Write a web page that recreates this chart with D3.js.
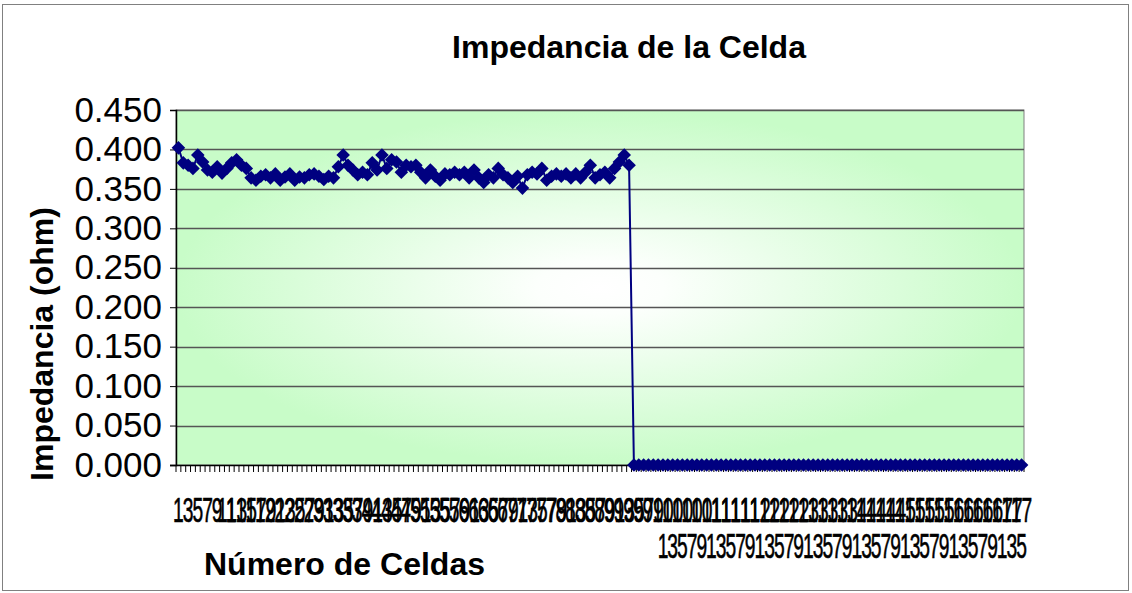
<!DOCTYPE html>
<html>
<head>
<meta charset="utf-8">
<script src="https://cdn.jsdelivr.net/npm/d3@7"></script>
<style>
  body { margin: 0; background: #fff; }
  text { font-family: "Liberation Sans", Arial, sans-serif; }
</style>
</head>
<body>
<div id="chart"></div>
<script>
// Impedancia de la Celda - line chart with diamond markers

// categories 1..175 (cell number)
const categorias = d3.range(1, 176);

// impedance values (ohm)
const impedancia = [
  0.402, 0.383, 0.380, 0.376, 0.393, 0.384, 0.374, 0.371, 0.378, 0.370,
  0.376, 0.383, 0.387, 0.380, 0.376, 0.364, 0.361, 0.366, 0.368, 0.364,
  0.369, 0.361, 0.365, 0.369, 0.361, 0.365, 0.364, 0.368, 0.369, 0.366,
  0.362, 0.366, 0.364, 0.378, 0.393, 0.380, 0.374, 0.368, 0.371, 0.368,
  0.383, 0.374, 0.393, 0.376, 0.387, 0.384, 0.371, 0.380, 0.378, 0.380,
  0.371, 0.364, 0.374, 0.366, 0.361, 0.369, 0.368, 0.371, 0.368, 0.371,
  0.364, 0.374, 0.364, 0.358, 0.368, 0.364, 0.376, 0.368, 0.364, 0.358,
  0.366, 0.351, 0.368, 0.371, 0.369, 0.376, 0.361, 0.366, 0.369, 0.366,
  0.369, 0.364, 0.369, 0.364, 0.371, 0.380, 0.364, 0.368, 0.371, 0.364,
  0.376, 0.384, 0.393, 0.380,
  0, 0, 0, 0, 0, 0, 0, 0, 0, 0, 0, 0, 0, 0, 0, 0, 0, 0, 0, 0,
  0, 0, 0, 0, 0, 0, 0, 0, 0, 0, 0, 0, 0, 0, 0, 0, 0, 0, 0, 0,
  0, 0, 0, 0, 0, 0, 0, 0, 0, 0, 0, 0, 0, 0, 0, 0, 0, 0, 0, 0,
  0, 0, 0, 0, 0, 0, 0, 0, 0, 0, 0, 0, 0, 0, 0, 0, 0, 0, 0, 0,
  0
];

// y tick values
const yTicks = [0, 0.05, 0.10, 0.15, 0.20, 0.25, 0.30, 0.35, 0.40, 0.45];

const data = categorias.map((c, i) => ({cat: c, val: impedancia[i]}));

const width = 1132, height = 593;
const plot = {left: 176, right: 1024, top: 110, bottom: 465};

const svg = d3.select("#chart").append("svg")
    .attr("width", width)
    .attr("height", height);

// gradient for plot area (white center, light green edges)
const defs = svg.append("defs");
const grad = defs.append("radialGradient")
    .attr("id", "bg")
    .attr("cx", 0.5).attr("cy", 0.5).attr("r", 0.5);
grad.append("stop").attr("offset", "0%").attr("stop-color", "#ffffff");
grad.append("stop").attr("offset", "15%").attr("stop-color", "#fcfffc");
grad.append("stop").attr("offset", "100%").attr("stop-color", "#c8fcc8");

// outer frame
svg.append("rect")
    .attr("x", 2.5).attr("y", 4.5)
    .attr("width", 1126).attr("height", 586)
    .attr("fill", "#fff")
    .attr("stroke", "#808080")
    .attr("stroke-width", 1);

const x = d3.scaleBand()
    .domain(categorias)
    .range([plot.left, plot.right])
    .padding(0);
const cx = d => x(d) + x.bandwidth() / 2;

const y = d3.scaleLinear()
    .domain([0, 0.45])
    .range([plot.bottom, plot.top]);

// plot area
svg.append("rect")
    .attr("x", plot.left).attr("y", plot.top)
    .attr("width", plot.right - plot.left)
    .attr("height", plot.bottom - plot.top)
    .attr("fill", "url(#bg)")
    .attr("stroke", "#808080")
    .attr("stroke-width", 1);

// gridlines
svg.append("g")
    .selectAll("line")
    .data(yTicks.filter(t => t > 0))
    .enter().append("line")
    .attr("x1", plot.left).attr("x2", plot.right)
    .attr("y1", d => Math.round(y(d)) + 0.5)
    .attr("y2", d => Math.round(y(d)) + 0.5)
    .attr("stroke", "#555")
    .attr("stroke-width", 1.3);

// y axis
const yAxis = d3.axisLeft(y)
    .tickValues(yTicks)
    .tickSize(6)
    .tickPadding(8)
    .tickFormat(d3.format(".3f"));

const gy = svg.append("g")
    .attr("transform", `translate(${plot.left},0)`)
    .call(yAxis);
gy.select(".domain").attr("stroke", "#000").attr("stroke-width", 1.5);
gy.selectAll(".tick line").attr("stroke", "#000");
gy.selectAll(".tick text")
    .attr("font-size", "35px")
    .attr("fill", "#000")
    .attr("font-family", "'Liberation Sans', Arial, sans-serif");

// x axis line and tick marks (at category boundaries)
svg.append("line")
    .attr("x1", plot.left - 6).attr("x2", plot.right)
    .attr("y1", plot.bottom + 0.5).attr("y2", plot.bottom + 0.5)
    .attr("stroke", "#000")
    .attr("stroke-width", 1.5);

svg.append("g")
    .selectAll("line")
    .data(categorias.concat([null]))
    .enter().append("line")
    .attr("x1", d => d === null ? plot.right : x(d))
    .attr("x2", d => d === null ? plot.right : x(d))
    .attr("y1", plot.bottom)
    .attr("y2", plot.bottom + 7)
    .attr("stroke", "#000")
    .attr("stroke-width", 1);

// x tick labels: every other category, 3-digit labels wrapped
const labels = svg.append("g");
categorias.filter(c => c % 2 === 1).forEach(c => {
    const s = String(c);
    const rows = s.length === 3 ? [s.slice(0, 2), s.slice(2)] : [s];
    rows.forEach((r, i) => {
        labels.append("text")
            .attr("transform", `translate(${cx(c)},${522 + i * 36}) scale(0.55,1)`)
            .attr("text-anchor", "middle")
            .attr("font-size", "35px")
            .attr("fill", "#000")
            .attr("stroke", "#000")
            .attr("stroke-width", 0.6)
            .text(r);
    });
});

// line
const line = d3.line()
    .x(d => cx(d.cat))
    .y(d => y(d.val));

svg.append("path")
    .datum(data)
    .attr("fill", "none")
    .attr("stroke", "#000080")
    .attr("stroke-width", 2)
    .attr("d", line);

// diamond markers
const diamond = d3.symbol().type(d3.symbolSquare).size(92);
svg.append("g")
    .selectAll("path")
    .data(data)
    .enter().append("path")
    .attr("d", diamond)
    .attr("transform", d => `translate(${cx(d.cat)},${y(d.val)}) rotate(45)`)
    .attr("fill", "#000080");

// title
svg.append("text")
    .attr("x", 629)
    .attr("y", 58)
    .attr("text-anchor", "middle")
    .attr("font-size", "32px")
    .attr("font-weight", "bold")
    .text("Impedancia de la Celda");

// y axis title
svg.append("text")
    .attr("transform", "translate(53,344) rotate(-90)")
    .attr("text-anchor", "middle")
    .attr("font-size", "32px")
    .attr("font-weight", "bold")
    .text("Impedancia (ohm)");

// x axis title
svg.append("text")
    .attr("x", 204)
    .attr("y", 575)
    .attr("font-size", "32px")
    .attr("font-weight", "bold")
    .text("Número de Celdas");
</script>
</body>
</html>
